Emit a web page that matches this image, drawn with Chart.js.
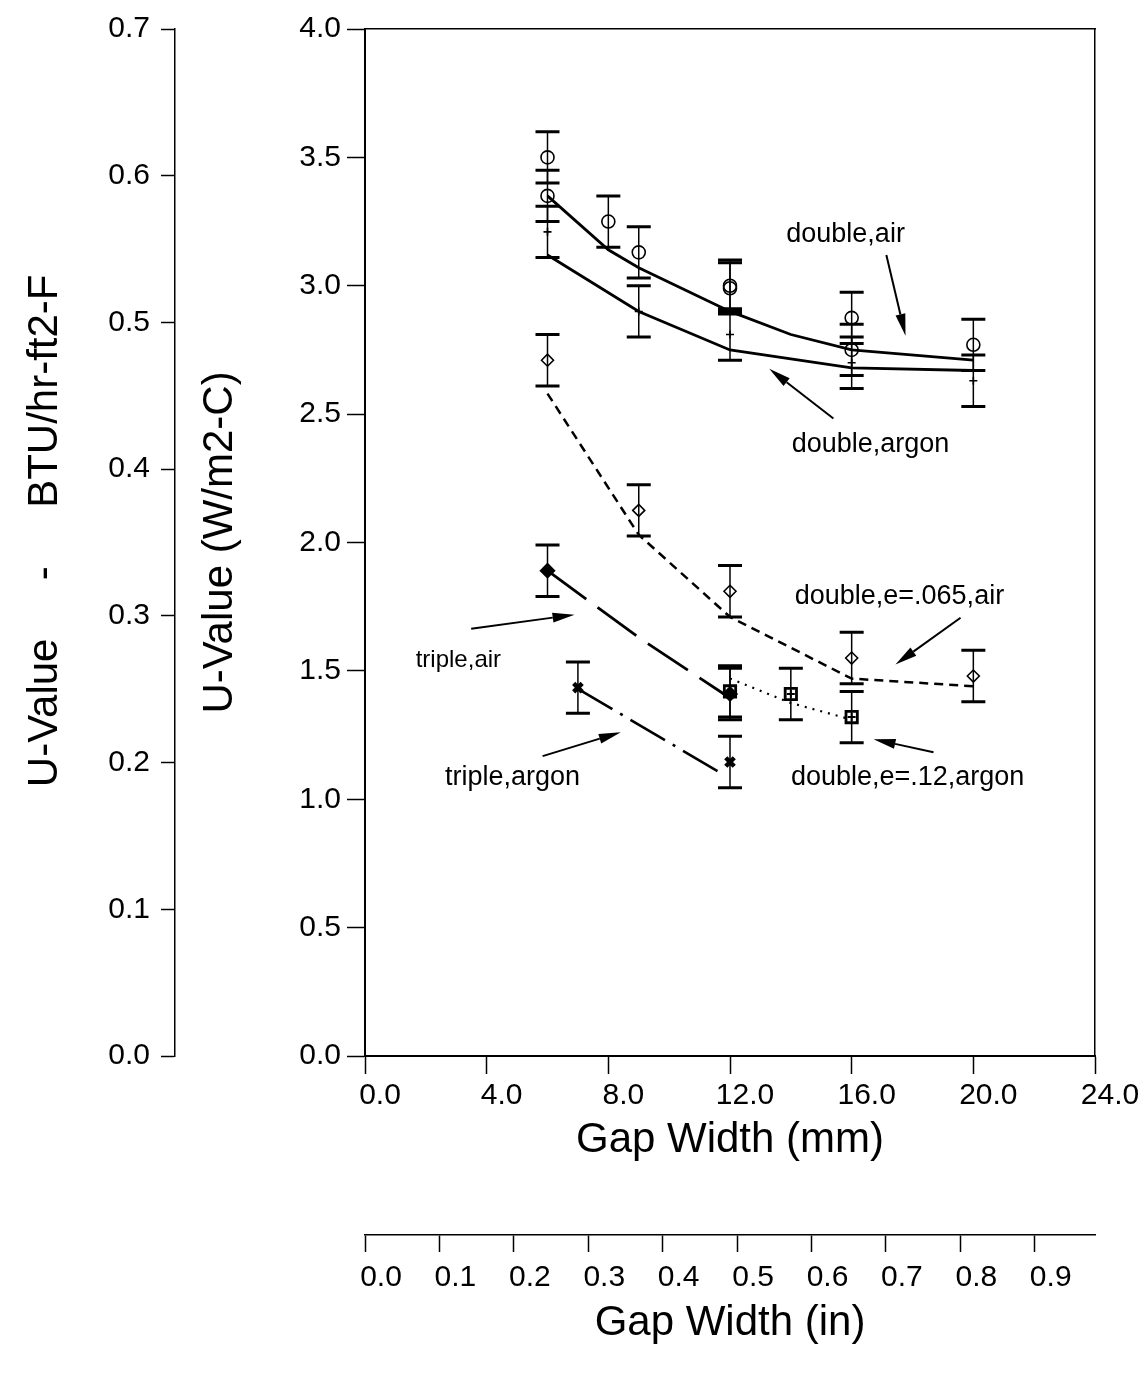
<!DOCTYPE html>
<html>
<head>
<meta charset="utf-8">
<title>U-Value vs Gap Width</title>
<script src="https://cdn.jsdelivr.net/npm/chart.js@4.4.1/dist/chart.umd.min.js"></script>
<style>
  html, body { margin: 0; padding: 0; background: #fff; }
  #wrap { width: 1140px; height: 1378px; }
</style>
</head>
<body>
<div id="wrap"><canvas id="grafico"></canvas></div>
<script>
// measured points (with +/- error bars)
const airX = [6, 6, 8, 9, 12, 12, 16, 16, 20];
const airY = [3.50, 3.35, 3.25, 3.13, 3.00, 2.99, 2.875, 2.75, 2.77];
const argonX = [6, 9, 12, 16, 20];
const argonY = [3.21, 2.90, 2.81, 2.70, 2.63];
const lowEAirX = [6, 9, 12, 16, 20];
const lowEAirY = [2.71, 2.125, 1.81, 1.55, 1.48];
const tripleAirX = [6, 12];
const tripleAirY = [1.89, 1.41];
const lowEArgonX = [12, 14, 16];
const lowEArgonY = [1.42, 1.41, 1.32];
const tripleArgonX = [7, 12];
const tripleArgonY = [1.435, 1.145];
const erro = 0.1;

// fitted curves
const airFitX = [6, 8, 9, 12, 14, 16, 20];
const airFitY = [3.35, 3.14, 3.07, 2.90, 2.81, 2.75, 2.71];
const argonFitX = [6, 9, 12, 16, 20];
const argonFitY = [3.12, 2.90, 2.75, 2.68, 2.67];
const lowEAirFitX = [6, 9, 12, 16, 20];
const lowEAirFitY = [2.58, 2.03, 1.71, 1.47, 1.44];
const tripleAirFitX = [6, 9, 11.8];
const tripleAirFitY = [1.89, 1.63, 1.41];
const lowEArgonFitX = [12, 14, 16];
const lowEArgonFitY = [1.47, 1.375, 1.31];
const tripleArgonFitX = [7, 11.8];
const tripleArgonFitY = [1.43, 1.095];

// tick values
const mmTicks = [0, 4, 8, 12, 16, 20, 24];
const inTicks = [0, 0.1, 0.2, 0.3, 0.4, 0.5, 0.6, 0.7, 0.8, 0.9];
const wTicks = [0, 0.5, 1.0, 1.5, 2.0, 2.5, 3.0, 3.5, 4.0];
const btuTicks = [0, 0.1, 0.2, 0.3, 0.4, 0.5, 0.6, 0.7];

// curve labels: text position and arrow (tail -> head), in data units
const notas = [
  { texto: 'double,air', x: 15.8, y: 3.20, de: [17.14, 3.12], para: [17.77, 2.805], tam: 27 },
  { texto: 'double,argon', x: 16.62, y: 2.38, de: [15.40, 2.483], para: [13.29, 2.677], tam: 27 },
  { texto: 'double,e=.065,air', x: 17.57, y: 1.79, de: [19.58, 1.707], para: [17.44, 1.525], tam: 27 },
  { texto: 'double,e=.12,argon', x: 17.84, y: 1.086, de: [18.69, 1.183], para: [16.72, 1.234], tam: 27 },
  { texto: 'triple,air', x: 3.07, y: 1.54, de: [3.49, 1.664], para: [6.89, 1.719], tam: 24 },
  { texto: 'triple,argon', x: 4.85, y: 1.086, de: [5.84, 1.168], para: [8.41, 1.261], tam: 27 }
];

const FONTE = "'Liberation Sans', Arial, sans-serif";
Chart.defaults.font.family = FONTE;
Chart.defaults.color = '#000';

function pontos(xs, ys) {
  return xs.map((x, i) => ({ x: x, y: ys[i] }));
}

function marcadores(xs, ys, estilo, raio, cheio, espessura) {
  return {
    data: pontos(xs, ys),
    showLine: false,
    pointStyle: estilo,
    pointRadius: raio,
    pointBorderWidth: espessura || 1.6,
    borderColor: '#000',
    pointBorderColor: '#000',
    pointBackgroundColor: cheio ? '#000' : 'rgba(0,0,0,0)'
  };
}

function curva(xs, ys, traco, largura) {
  return {
    data: pontos(xs, ys),
    showLine: true,
    pointRadius: 0,
    borderColor: '#000',
    borderWidth: largura,
    borderDash: traco,
    tension: 0
  };
}

const barrasErro = {
  id: 'barrasErro',
  afterDatasetsDraw(chart) {
    const { ctx, scales: { x, y } } = chart;
    const grupos = [[airX, airY], [argonX, argonY], [lowEAirX, lowEAirY],
      [tripleAirX, tripleAirY], [lowEArgonX, lowEArgonY], [tripleArgonX, tripleArgonY]];
    ctx.save();
    ctx.strokeStyle = '#000';
    grupos.forEach(([xs, ys]) => {
      xs.forEach((v, i) => {
        const px = x.getPixelForValue(v);
        const cima = y.getPixelForValue(ys[i] + erro);
        const baixo = y.getPixelForValue(ys[i] - erro);
        ctx.lineWidth = 1.5;
        ctx.beginPath();
        ctx.moveTo(px, cima);
        ctx.lineTo(px, baixo);
        ctx.stroke();
        ctx.lineWidth = 3;
        ctx.beginPath();
        ctx.moveTo(px - 12, cima); ctx.lineTo(px + 12, cima);
        ctx.moveTo(px - 12, baixo); ctx.lineTo(px + 12, baixo);
        ctx.stroke();
      });
    });
    ctx.restore();
  }
};

function seta(ctx, x0, y0, x1, y1) {
  const ang = Math.atan2(y1 - y0, x1 - x0);
  const comp = 22, meia = 5;
  ctx.lineWidth = 2;
  ctx.beginPath();
  ctx.moveTo(x0, y0);
  ctx.lineTo(x1 - comp * Math.cos(ang), y1 - comp * Math.sin(ang));
  ctx.stroke();
  ctx.beginPath();
  ctx.moveTo(x1, y1);
  ctx.lineTo(x1 - comp * Math.cos(ang) + meia * Math.sin(ang), y1 - comp * Math.sin(ang) - meia * Math.cos(ang));
  ctx.lineTo(x1 - comp * Math.cos(ang) - meia * Math.sin(ang), y1 - comp * Math.sin(ang) + meia * Math.cos(ang));
  ctx.closePath();
  ctx.fill();
}

const anotacoes = {
  id: 'anotacoes',
  afterDraw(chart) {
    const { ctx, scales: { x, y } } = chart;
    ctx.save();
    ctx.fillStyle = '#000';
    ctx.strokeStyle = '#000';
    ctx.textAlign = 'center';
    ctx.textBaseline = 'middle';
    notas.forEach(n => {
      ctx.font = n.tam + 'px ' + FONTE;
      ctx.fillText(n.texto, x.getPixelForValue(n.x), y.getPixelForValue(n.y));
      seta(ctx, x.getPixelForValue(n.de[0]), y.getPixelForValue(n.de[1]),
        x.getPixelForValue(n.para[0]), y.getPixelForValue(n.para[1]));
    });
    ctx.restore();
  }
};

function eixoGrade(comprimento) {
  return {
    display: true,
    drawOnChartArea: false,
    drawTicks: true,
    tickLength: comprimento,
    tickColor: '#000',
    tickWidth: 1.5
  };
}

const fixarTicks = lista => scale => {
  scale.ticks = lista.map(v => ({ value: v }));
};

const ctx = document.getElementById('grafico').getContext('2d');

new Chart(ctx, {
  type: 'scatter',
  data: {
    datasets: [
      marcadores(airX, airY, 'circle', 6.5, false),
      marcadores(argonX, argonY, 'cross', 4, false),
      marcadores(lowEAirX, lowEAirY, 'rectRot', 6, false),
      marcadores(tripleAirX, tripleAirY, 'rectRot', 7, true),
      marcadores(lowEArgonX, lowEArgonY, 'cross', 4, false, 2),
      marcadores(lowEArgonX, lowEArgonY, 'rect', 8, false, 2.8),
      marcadores(tripleArgonX, tripleArgonY, 'crossRot', 6, false, 4.5),
      curva(airFitX, airFitY, [], 2.8),
      curva(argonFitX, argonFitY, [], 2.8),
      curva(lowEAirFitX, lowEAirFitY, [9, 6], 2.5),
      curva(tripleAirFitX, tripleAirFitY, [48, 14], 2.8),
      curva(lowEArgonFitX, lowEArgonFitY, [2, 6], 2.2),
      curva(tripleArgonFitX, tripleArgonFitY, [40, 9, 3, 9], 2.6)
    ]
  },
  options: {
    responsive: true,
    maintainAspectRatio: false,
    animation: false,
    devicePixelRatio: 1,
    layout: { padding: { top: 24, right: 45, bottom: 0, left: 0 } },
    plugins: {
      legend: { display: false },
      tooltip: { enabled: false }
    },
    scales: {
      x: {
        type: 'linear', position: 'bottom', weight: 0,
        min: 0, max: 24,
        afterBuildTicks: fixarTicks(mmTicks),
        afterFit: s => { s.height = 179; },
        grid: eixoGrade(18),
        border: { display: true, color: '#000', width: 2 },
        ticks: { font: { size: 30 }, padding: 4, labelOffset: 15, maxRotation: 0,
          callback: v => v.toFixed(1) },
        title: { display: true, text: 'Gap Width (mm)', font: { size: 42 }, padding: { top: 0, bottom: 69 } }
      },
      xi: {
        type: 'linear', position: 'bottom', weight: 1,
        min: 0, max: 0.981,
        afterBuildTicks: fixarTicks(inTicks),
        afterFit: s => { s.height = 143; },
        grid: eixoGrade(17),
        border: { display: true, color: '#000', width: 1.5 },
        ticks: { font: { size: 30 }, padding: 8, labelOffset: 16, maxRotation: 0,
          callback: v => v.toFixed(1) },
        title: { display: true, text: 'Gap Width (in)', font: { size: 42 }, padding: { top: 0, bottom: 29 } }
      },
      y: {
        type: 'linear', position: 'left', weight: 0,
        min: 0, max: 4,
        afterBuildTicks: fixarTicks(wTicks),
        afterFit: s => { s.width = 190; },
        grid: eixoGrade(18),
        border: { display: true, color: '#000', width: 2 },
        ticks: { font: { size: 30 }, padding: 6, callback: v => v.toFixed(1) },
        title: { display: true, text: 'U-Value (W/m2-C)', font: { size: 42 }, padding: { top: 20, bottom: 0 } }
      },
      yb: {
        type: 'linear', position: 'left', weight: 1,
        min: 0, max: 0.7,
        afterBuildTicks: fixarTicks(btuTicks),
        afterFit: s => { s.width = 175; },
        grid: eixoGrade(14),
        border: { display: true, color: '#000', width: 1.5 },
        ticks: { font: { size: 30 }, padding: 11, callback: v => v.toFixed(1) },
        title: { display: true, text: '  U-Value     -     BTU/hr-ft2-F', font: { size: 42 }, padding: { top: 20, bottom: 0 } }
      },
      xt: {
        type: 'linear', position: 'top', min: 0, max: 24,
        afterFit: s => { s.height = 0; },
        grid: { display: false },
        border: { display: true, color: '#000', width: 1.5 },
        ticks: { display: false }
      },
      yr: {
        type: 'linear', position: 'right', min: 0, max: 4,
        afterFit: s => { s.width = 0; },
        grid: { display: false },
        border: { display: true, color: '#000', width: 1.5 },
        ticks: { display: false }
      }
    }
  },
  plugins: [barrasErro, anotacoes]
});
</script>
</body>
</html>
